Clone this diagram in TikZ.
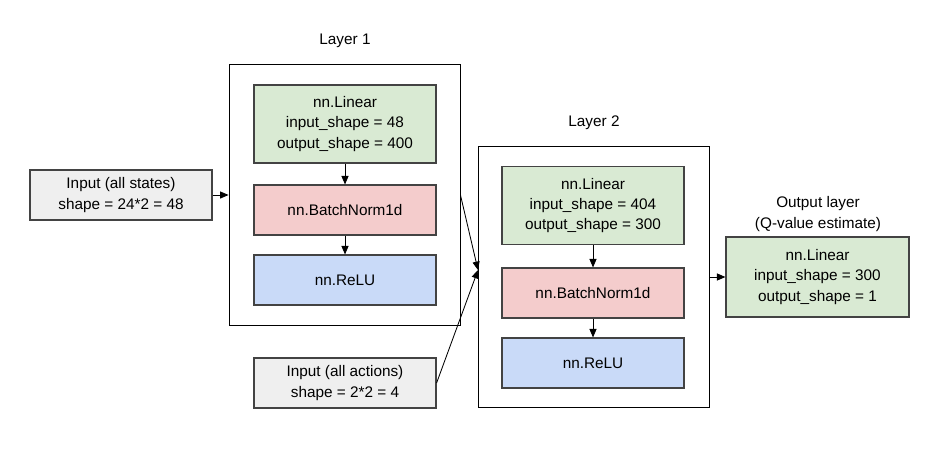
\documentclass[tikz,border=0pt]{standalone}
\usepackage{fontspec}
\setmainfont{Liberation Sans}
\usetikzlibrary{arrows.meta,positioning}
\definecolor{lnFill}{HTML}{D9EAD3}
\definecolor{bnFill}{HTML}{F4CCCC}
\definecolor{reFill}{HTML}{C9DAF8}
\definecolor{inFill}{HTML}{EFEFEF}
\definecolor{boxBorder}{HTML}{434343}
\tikzset{
    every picture/.style={font=\fontsize{10.9}{14.3}\selectfont},
    % boxes inside the layers
    netbox/.style={rectangle,draw=boxBorder,line width=0.8pt,minimum width=4.55cm,minimum height=1.25cm,align=center,inner sep=2pt},
    linbox/.style={netbox,fill=lnFill,minimum height=1.95cm},
    bnbox/.style={netbox,fill=bnFill},
    relubox/.style={netbox,fill=reFill},
    inbox/.style={netbox,fill=inFill},
    layerframe/.style={rectangle,draw=black,line width=0.6pt,minimum width=5.775cm,minimum height=6.525cm},
    % arrows
    flow/.style={-{Triangle[length=6pt,width=5pt]},line width=0.6pt,black}
}

\begin{document}
\begin{tikzpicture}[x=0.025cm,y=-0.025cm]
\useasboundingbox (0,0) rectangle (941,460);

% Layer frames and titles
\node[layerframe] at (344.5,194.5) (l1frame) {};
\node[layerframe] at (593.5,276.5) (l2frame) {};
\node at (345,41) (l1title) {Layer 1};
\node at (594,123) (l2title) {Layer 2};

% Inputs
\node[inbox] at (121,195) (instates) {Input (all states)\\shape = 24*2 = 48};
\node[inbox] at (345,383) (inactions) {Input (all actions)\\shape = 2*2 = 4};

% Layer 1
\node[linbox] at (345,124) (l1lin) {nn.Linear\\input\_shape = 48\\output\_shape = 400};
\node[bnbox] at (345,210) (l1bn) {nn.BatchNorm1d};
\node[relubox] at (345,280) (l1relu) {nn.ReLU};

% Layer 2
\node[linbox] at (593,205.5) (l2lin) {nn.Linear\\input\_shape = 404\\output\_shape = 300};
\node[bnbox] at (593,293) (l2bn) {nn.BatchNorm1d};
\node[relubox] at (593,363) (l2relu) {nn.ReLU};

% Output layer
\node[linbox,minimum width=4.575cm,minimum height=2cm] at (817.5,277) (outlin) {nn.Linear\\input\_shape = 300\\output\_shape = 1};
\node[align=center] at (818,214) (outtitle) {Output layer\\(Q-value estimate)};

% Connections
\coordinate (join) at (478,270);
\draw[flow] (instates) -- (l1frame.west |- instates);
\draw[flow] (l1lin) -- (l1bn);
\draw[flow] (l1bn) -- (l1relu);
\draw[flow] (l2lin) -- (l2bn);
\draw[flow] (l2bn) -- (l2relu);
\draw[flow] (l1frame.east |- instates) -- (join);
\draw[flow] (inactions.east) -- (join);
\draw[flow] (l2frame.east |- outlin) -- (outlin);

\end{tikzpicture}
\end{document}
